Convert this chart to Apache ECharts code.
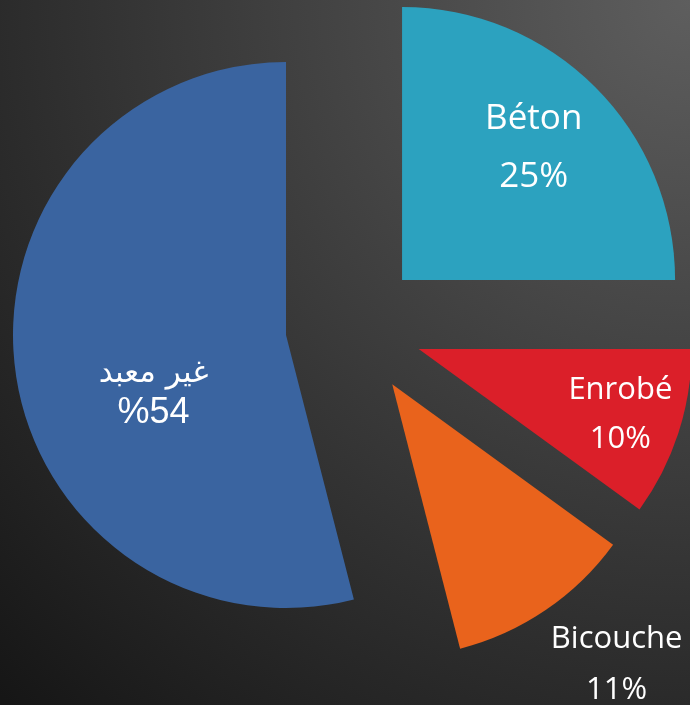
<!DOCTYPE html>
<html>
<head>
<meta charset="utf-8">
<script src="https://cdn.jsdelivr.net/npm/echarts@6/dist/echarts.min.js"></script>
<style>
html, body { margin: 0; padding: 0; background: #222; }
#chart { width: 690px; height: 705px; }
</style>
</head>
<body>
<div id="chart"></div>
<script>
// slices, clockwise from 12 o'clock
const categories = ['Béton', 'Enrobé', 'Bicouche', 'غير معبد'];
const values = [25, 10, 11, 54];
const colors = ['#2ca2bf', '#db1f29', '#e9631c', '#3a64a0'];

// label tweaks (nudge from default inside spot, font size, line height)
const labelShift = [[33, -33], [69, 23], [146, 165], [6, 41]];
const labelSize = [35, 31, 31, 36];
const labelLineH = [58, 49, 51, 40];

const chart = echarts.init(document.getElementById('chart'));

// one pie per explode group, the other slices left invisible
function pieSeries (shown, center, offset) {
  return {
    type: 'pie',
    radius: 273,
    center: center,
    startAngle: 90,
    clockwise: true,
    silent: true,
    avoidLabelOverlap: false,
    selectedMode: 'multiple',
    selectedOffset: offset,
    emphasis: { disabled: true },
    labelLine: { show: false },
    itemStyle: { borderWidth: 0 },
    label: {
      position: 'inside',
      color: '#fff',
      fontFamily: 'Open Sans'
    },
    labelLayout: function (p) {
      const s = labelShift[p.dataIndex]
      return { dx: s[0], dy: s[1] }
    },
    data: categories.map(function (name, i) {
      const on = shown.indexOf(i) >= 0
      const arabic = /[\u0600-\u06FF]/.test(name)
      return {
        name: name,
        value: values[i],
        selected: on && offset > 0,
        itemStyle: { color: on ? colors[i] : 'transparent' },
        label: arabic ? {
          show: on,
          formatter: '{n|{b}}\n{v|%{c}}',
          rich: {
            n: { fontSize: 31, lineHeight: labelLineH[i], color: '#fff', fontFamily: 'DejaVu Sans, sans-serif' },
            v: { fontSize: labelSize[i], lineHeight: labelLineH[i], color: '#fff', fontFamily: 'Liberation Sans, sans-serif' }
          }
        } : {
          show: on,
          formatter: '{b}\n{c}%',
          fontSize: labelSize[i],
          lineHeight: labelLineH[i],
          fontFamily: 'Open Sans, sans-serif'
        }
      }
    })
  }
}

const option = {
  animation: false,
  backgroundColor: new echarts.graphic.RadialGradient(1, 0, 1.42, [
    { offset: 0, color: '#5e5e5e' },
    { offset: 1, color: '#161616' }
  ]),
  series: [
    pieSeries([0, 1, 2], [354, 328], 68),
    pieSeries([3], [286, 335], 0)
  ]
}

chart.setOption(option)
</script>
</body>
</html>
